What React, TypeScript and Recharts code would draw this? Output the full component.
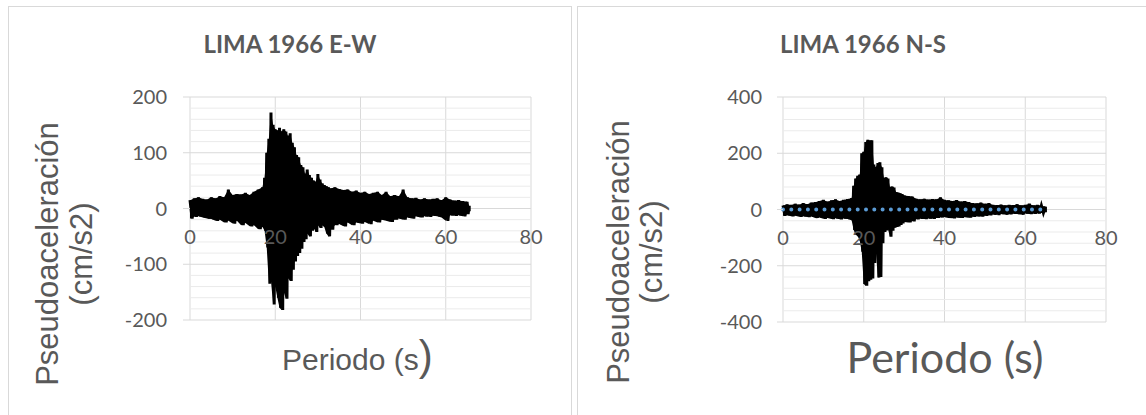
import React from 'react'
import {
  ComposedChart, Line, Area, XAxis, YAxis, CartesianGrid, ReferenceDot, ReferenceLine
} from 'recharts'

// --- LIMA 1966 E-W : envelope (time in s, cm/s2)
const ewTime = [
  0, 1, 2, 3, 4, 5, 6, 7, 8, 9, 10, 11, 12, 13, 14, 15, 16, 17,
  17.5, 18, 18.5, 19, 19.5, 20, 20.5, 21, 21.5, 22, 22.5, 23, 23.5, 24, 24.5,
  25, 25.5, 26, 26.5, 27, 27.5, 28, 28.5, 29, 29.5, 30, 30.5, 31, 31.5, 32, 32.5,
  33, 34, 35, 36, 37, 38, 39, 40, 41, 42, 43, 44, 45, 46, 47, 48, 49, 50,
  51, 52, 53, 54, 55, 56, 57, 58, 59, 60, 61, 62, 63, 64, 65, 65.5,
]
const ewHigh = [
  15, 18, 20, 17, 16, 20, 18, 22, 20, 34, 24, 26, 25, 28, 24, 30, 34, 38,
  55, 100, 125, 172, 150, 142, 140, 145, 138, 142, 138, 130, 135, 118, 110,
  96, 92, 78, 74, 62, 70, 60, 55, 50, 48, 62, 52, 45, 42, 40, 38,
  36, 38, 35, 33, 34, 30, 32, 28, 30, 26, 28, 30, 24, 30, 22, 24, 22, 34,
  20, 18, 19, 16, 18, 16, 17, 18, 15, 20, 16, 14, 15, 13, 12, 5,
]
const ewLow = [
  -18, -15, -14, -16, -18, -19, -22, -20, -25, -22, -27, -22, -30, -26, -32, -30, -37, -33,
  -40, -70, -135, -130, -172, -140, -160, -178, -182, -150, -162, -125, -130, -110, -95,
  -85, -80, -72, -60, -55, -45, -50, -40, -35, -42, -30, -35, -30, -33, -45, -50,
  -38, -30, -28, -32, -25, -30, -25, -27, -24, -28, -22, -25, -20, -22, -24, -20, -18, -20,
  -16, -18, -14, -16, -14, -15, -13, -14, -16, -22, -12, -13, -12, -14, -10, -5,
]

// --- LIMA 1966 N-S
const nsTime = [
  0, 1, 2, 3, 4, 5, 6, 7, 8, 9, 10, 11, 12, 13, 14, 15, 16, 17,
  17.5, 18, 18.5, 19, 19.5, 20, 20.5, 21, 21.5, 22, 22.5, 23, 23.5, 24, 24.5,
  25, 25.5, 26, 26.5, 27, 27.5, 28, 28.5, 29, 29.5,
  30, 31, 32, 33, 34, 35, 36, 37, 38, 39, 40, 41, 42, 43, 44, 45, 46, 47,
  48, 49, 50, 51, 52, 53, 54, 55, 56, 57, 58, 59, 60, 61, 62, 63, 64, 65,
]
const nsHigh = [
  14, 18, 16, 20, 17, 22, 19, 24, 26, 30, 34, 28, 32, 36, 30, 34, 37, 40,
  84, 110, 120, 124, 200, 205, 240, 248, 245, 246, 160, 150, 165, 168, 150,
  112, 115, 110, 80, 82, 78, 62, 60, 58, 55,
  50, 48, 46, 38, 36, 38, 35, 37, 36, 43, 34, 32, 30, 33, 28, 30, 26, 22,
  21, 24, 20, 22, 16, 15, 17, 14, 16, 15, 18, 14, 16, 20, 14, 16, 14, 10,
]
const nsLow = [
  -22, -20, -24, -22, -26, -24, -27, -25, -30, -28, -33, -30, -34, -31, -35, -32, -34, -38,
  -73, -90, -95, -110, -150, -265, -271, -255, -250, -245, -190, -150, -242, -240, -120,
  -80, -75, -70, -97, -75, -65, -62, -60, -55, -50,
  -44, -46, -42, -35, -33, -34, -32, -33, -30, -28, -27, -30, -31, -28, -30, -27, -29, -26,
  -24, -25, -22, -20, -18, -19, -16, -18, -17, -15, -16, -18, -14, -16, -15, -14, -12, -10,
]
// second (blue, dotted) series of the N-S sheet, sits on zero
const nsBaseTime = [0, 65.5]
const nsBaseValue = [0, 0]

const xTicks = [0, 20, 40, 60, 80]
const ewTicks = [-200, -100, 0, 100, 200]
const ewMinor = [-180, -160, -140, -120, -80, -60, -40, -20, 20, 40, 60, 80, 120, 140, 160, 180]
const nsTicks = [-400, -200, 0, 200, 400]
const nsMinor = [-360, -320, -280, -240, -160, -120, -80, -40, 40, 80, 120, 160, 240, 280, 320, 360]

const GREY = '#595959'
const GRID = '#D9D9D9'
const MINOR = '#EBEBEB'
const NUM_FONT = 'Lato, "Noto Sans", sans-serif'
const ARIAL = '"Liberation Sans", Arial, sans-serif'

type Pt = { t: number; v: number }

// alternate peak / trough so the thick line gets the ragged edge of the raw record
function buildTrace(time: number[], high: number[], low: number[]) {
  const out: Pt[] = []
  time.forEach((t, i) => {
    const next = i < time.length - 1 ? time[i + 1] : t
    out.push({ t, v: high[i] })
    out.push({ t: (t + next) / 2, v: low[i] })
  })
  return out
}

// solid body between the envelopes
function buildBand(time: number[], high: number[], low: number[]) {
  return time.map((t, i) => ({ t, band: [low[i], high[i]] }))
}

const ewTrace = buildTrace(ewTime, ewHigh, ewLow)
const ewBand = buildBand(ewTime, ewHigh, ewLow)
const nsTrace = buildTrace(nsTime, nsHigh, nsLow)
const nsBand = buildBand(nsTime, nsHigh, nsLow)
const nsBase = nsBaseTime.map((t, i) => ({ t, v: nsBaseValue[i] }))

interface PanelProps {
  left: number
  width: number
  margin: { top: number; right: number; bottom: number; left: number }
  trace: Pt[]
  band: { t: number; band: number[] }[]
  base?: Pt[]
  yTicks: number[]
  yMinor: number[]
  tickSize: number
  tickMargin: number
}

function Panel({ left, width, margin, trace, band, base, yTicks, yMinor, tickSize, tickMargin }: PanelProps) {
  const yDomain = [yTicks[0], yTicks[yTicks.length - 1]]
  return (
    <div style={{ position: 'absolute', left, top: 0 }}>
      <ComposedChart width={width} height={415} margin={margin}>
        <XAxis dataKey="t" type="number" domain={[0, 80]} ticks={xTicks} hide />
        <YAxis type="number" domain={yDomain} ticks={yTicks} width={60}
          axisLine={false} tickSize={tickSize} tickMargin={tickMargin}
          tickLine={{ stroke: GRID }}
          tick={{ fill: GREY, fontSize: 20, fontFamily: NUM_FONT }} />
        {/* minor horizontal gridlines */}
        {yMinor.map(v => (
          <ReferenceLine key={v} y={v} stroke={MINOR} strokeWidth={1} zIndex={-90} />
        ))}
        <CartesianGrid stroke={GRID} />
        <Area data={band} dataKey="band" type="linear" stroke="none" fill="#000"
          fillOpacity={1} isAnimationActive={false} />
        <Line data={trace} dataKey="v" type="linear" stroke="#000" strokeWidth={3}
          dot={false} isAnimationActive={false} />
        {base && (
          <Line data={base} dataKey="v" type="linear" stroke="#5B9BD5" strokeWidth={4}
            strokeDasharray="0 8.3" strokeLinecap="round" dot={false} isAnimationActive={false} />
        )}
        {xTicks.map(v => (
          <ReferenceDot key={v} x={v} y={0} r={0} fill="none" stroke="none"
            label={{ value: String(v), position: 'bottom', offset: 21, fill: GREY, fontSize: 20, fontFamily: NUM_FONT }} />
        ))}
      </ComposedChart>
    </div>
  )
}

export default function App() {
  return (
    <div style={{ position: 'absolute', left: 0, top: 0, width: 1146, height: 415, background: '#fff', overflow: 'hidden' }}>
      <div style={{ position: 'absolute', left: 8, top: 6, width: 562, height: 440, border: `1px solid ${GRID}` }} />
      <div style={{ position: 'absolute', left: 577, top: 6, width: 600, height: 440, border: `1px solid ${GRID}` }} />

      <Panel left={0} width={571} margin={{ top: 97, right: 40, bottom: 95, left: 130 }}
        trace={ewTrace} band={ewBand} yTicks={ewTicks} yMinor={ewMinor} tickSize={7} tickMargin={16} />
      <Panel left={577} width={569} margin={{ top: 97, right: 40, bottom: 93, left: 146 }}
        trace={nsTrace} band={nsBand} base={nsBase} yTicks={nsTicks} yMinor={nsMinor} tickSize={6} tickMargin={15} />

      <svg width={1146} height={415} style={{ position: 'absolute', left: 0, top: 0, pointerEvents: 'none' }}>
        <text x={290} y={53} textAnchor="middle" fill={GREY} fontFamily={NUM_FONT} fontWeight={700} fontSize={24}>LIMA 1966 E-W</text>
        <text x={863} y={53} textAnchor="middle" fill={GREY} fontFamily={NUM_FONT} fontWeight={700} fontSize={24}>LIMA 1966 N-S</text>

        <text transform="translate(58,254) rotate(-90)" textAnchor="middle" fill={GREY} fontFamily={ARIAL} fontSize={31}>Pseudoaceleración</text>
        <text transform="translate(92,254) rotate(-90)" textAnchor="middle" fill={GREY} fontFamily={ARIAL} fontSize={31}>(cm/s2)</text>
        <text transform="translate(629,252) rotate(-90)" textAnchor="middle" fill={GREY} fontFamily={ARIAL} fontSize={31}>Pseudoaceleración</text>
        <text transform="translate(662,252) rotate(-90)" textAnchor="middle" fill={GREY} fontFamily={ARIAL} fontSize={31}>(cm/s2)</text>

        <text x={282} y={370} fill={GREY} fontFamily={ARIAL} fontSize={30}>
          Periodo (s<tspan fontSize={42}>)</tspan>
        </text>
        <text x={945} y={373} textAnchor="middle" fill={GREY} fontFamily={NUM_FONT} fontSize={43}>Periodo (s)</text>
      </svg>
    </div>
  )
}
